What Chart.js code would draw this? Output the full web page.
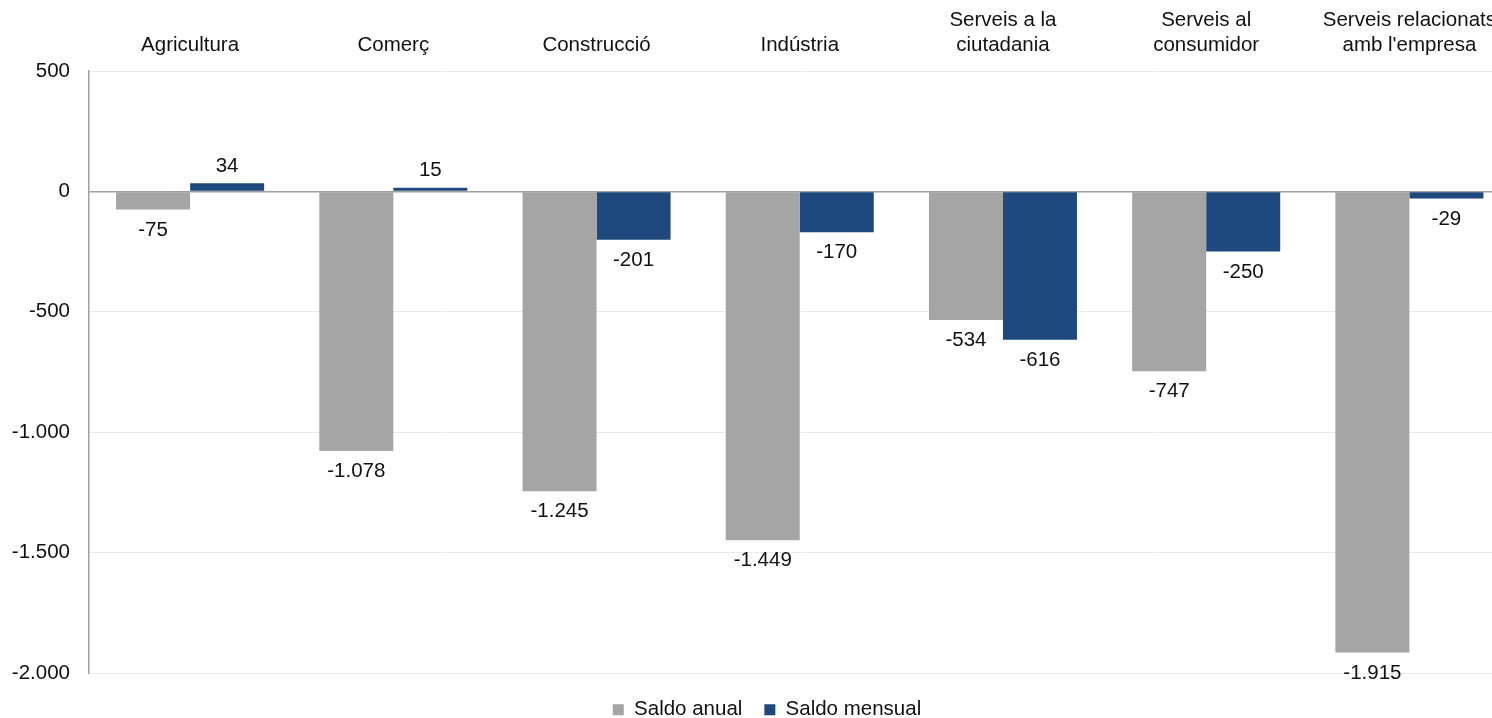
<!DOCTYPE html>
<html>
<head>
<meta charset="utf-8">
<script src="https://cdn.jsdelivr.net/npm/chart.js@4/dist/chart.umd.min.js"></script>
<style>
  html, body { margin: 0; padding: 0; background: #fff; overflow: hidden; }
  #wrap { position: relative; width: 1511px; height: 718px; }
</style>
</head>
<body>
<div id="wrap"><canvas id="c"></canvas></div>
<script>
const categories = [
  'Agricultura',
  'Comerç',
  'Construcció',
  'Indústria',
  ['Serveis a la', 'ciutadania'],
  ['Serveis al', 'consumidor'],
  ['Serveis relacionats', "amb l'empresa"]
];
const seriesNames = ['Saldo anual', 'Saldo mensual'];
const saldoAnual = [-75, -1078, -1245, -1449, -534, -747, -1915];
const saldoMensual = [34, 15, -201, -170, -616, -250, -29];
const yMin = -2000, yMax = 500, yStep = 500;

const FONT = '"Liberation Sans", Arial, sans-serif';
const FS = 20.5;

function fmt(v) {
  const s = Math.abs(v).toString().replace(/\B(?=(\d{3})+(?!\d))/g, '.');
  return (v < 0 ? '-' : '') + s;
}

const labelPlugin = {
  id: 'barLabels',
  afterLayout(chart) {
    const lg = chart.legend;
    if (lg) {
      lg.top += 4.5; lg.bottom += 4.5;
      lg.left += 11.5; lg.right += 11.5;
    }
  },
  afterDatasetsDraw(chart) {
    const ctx = chart.ctx;
    ctx.save();
    ctx.font = FS + 'px ' + FONT;
    ctx.fillStyle = '#111';
    ctx.textAlign = 'center';
    ctx.textBaseline = 'middle';
    chart.data.datasets.forEach((ds, i) => {
      chart.getDatasetMeta(i).data.forEach((bar, j) => {
        const v = ds.data[j];
        const y = v >= 0 ? bar.y - 17 : bar.y + 20.5;
        ctx.fillText(fmt(v), bar.x, y);
      });
    });
    ctx.restore();
  }
};

new Chart(document.getElementById('c'), {
  type: 'bar',
  data: {
    labels: categories,
    datasets: [
      { label: seriesNames[0], data: saldoAnual, backgroundColor: '#a5a5a5', borderWidth: 0 },
      { label: seriesNames[1], data: saldoMensual, backgroundColor: '#1f497d', borderWidth: 0 }
    ]
  },
  options: {
    responsive: true,
    maintainAspectRatio: false,
    animation: false,
    layout: { padding: { left: 0, right: 0, top: 7.5, bottom: -7.5 } },
    datasets: { bar: { categoryPercentage: 0.7285, barPercentage: 1.0 } },
    scales: {
      x: {
        position: 'top',
        afterFit: (s) => { s.height = 63.5; },
        grid: { display: false, drawTicks: false },
        border: { display: false },
        ticks: {
          color: '#111',
          padding: 13.5,
          maxRotation: 0,
          autoSkip: false,
          font: { family: FONT, size: FS, lineHeight: 25 / FS }
        }
      },
      y: {
        min: yMin, max: yMax,
        afterFit: (s) => { s.width = 88.5; },
        afterBuildTicks: (s) => {
          const t = [];
          for (let v = yMin; v <= yMax; v += yStep) t.push({ value: v });
          s.ticks = t;
        },
        grid: {
          drawTicks: false,
          color: (c) => (c.tick && c.tick.value === 0) ? '#a0a0a0' : '#ebebeb',
          lineWidth: (c) => (c.tick && c.tick.value === 0) ? 1.5 : 1
        },
        border: { display: true, color: '#a0a0a0', width: 1.5 },
        ticks: {
          color: '#111',
          padding: 18.5,
          font: { family: FONT, size: FS },
          callback: (v) => fmt(v)
        }
      }
    },
    plugins: {
      legend: {
        position: 'bottom',
        labels: {
          boxWidth: 11,
          boxHeight: 11,
          padding: 22,
          color: '#111',
          font: { family: FONT, size: FS }
        }
      },
      tooltip: { enabled: false }
    }
  },
  plugins: [labelPlugin]
});
</script>
</body>
</html>
